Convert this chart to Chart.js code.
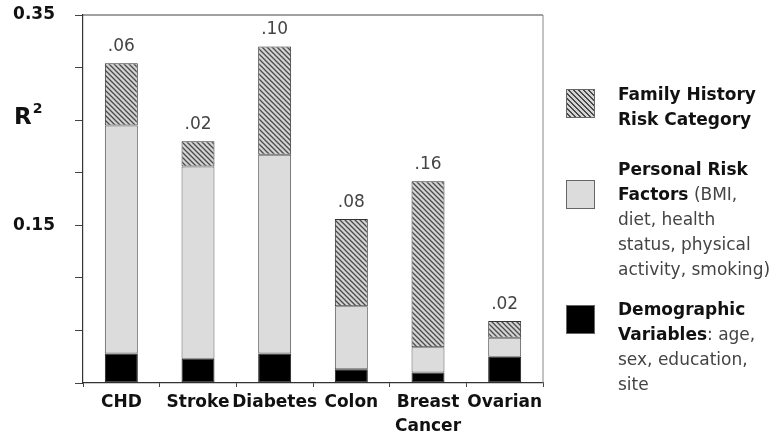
<!DOCTYPE html>
<html>
<head>
<meta charset="utf-8">
<script src="https://cdn.jsdelivr.net/npm/chart.js@4"></script>
<style>
    body { margin: 0; background: #fff; }
    #wrap { position: relative; width: 783px; height: 437px; }
    #chart { position: absolute; left: 0; top: 0; }
    .lg { position: absolute; left: 618px; font: 17px "DejaVu Sans", sans-serif; line-height: 25px; color: #444; white-space: nowrap; }
    .lg b { color: #111; }
    .sw { position: absolute; left: 566px; width: 27px; height: 27px; border: 1px solid #666; }
</style>
</head>
<body>
<div id="wrap">
    <canvas id="chart" width="783" height="437"></canvas>

    <div class="sw" style="top:89px;background:repeating-linear-gradient(45deg,#d4d4d4 0 2px,#4a4a4a 2px 3.5px);"></div>
    <div class="lg" style="top:82px;"><b>Family History<br>Risk Category</b></div>

    <div class="sw" style="top:180px;background:#dcdcdc;"></div>
    <div class="lg" style="top:157px;"><b>Personal Risk<br>Factors</b> (BMI,<br>diet, health<br>status, physical<br>activity, smoking)</div>

    <div class="sw" style="top:305px;background:#000;"></div>
    <div class="lg" style="top:297px;"><b>Demographic<br>Variables</b>: age,<br>sex, education,<br>site</div>
</div>

<script>
// datos (R² por bloque de variables)
const categories = ["CHD", "Stroke", "Diabetes", "Colon", ["Breast", "Cancer"], "Ovarian"];
const demographic = [0.028, 0.023, 0.028, 0.013, 0.010, 0.025];
const personal = [0.217, 0.183, 0.189, 0.060, 0.024, 0.018];
const familyHistory = [0.059, 0.024, 0.103, 0.083, 0.158, 0.016];
const familyLabels = [".06", ".02", ".10", ".08", ".16", ".02"];
const yTickLabels = ["0.35", "0.15"];

(() => {
    const canvas = document.getElementById("chart");
    const ctx = canvas.getContext("2d");

    // patrón rayado para "Family History"
    function hatchPattern() {
        const c = document.createElement("canvas");
        c.width = 5;
        c.height = 5;
        const g = c.getContext("2d");
        g.fillStyle = "#d4d4d4";
        g.fillRect(0, 0, 5, 5);
        g.strokeStyle = "#4a4a4a";
        g.lineWidth = 1.3;
        g.beginPath();
        g.moveTo(-1, -1); g.lineTo(6, 6);
        g.moveTo(-1, 4); g.lineTo(1, 6);
        g.moveTo(4, -1); g.lineTo(6, 1);
        g.stroke();
        return ctx.createPattern(c, "repeat");
    }

    const framePlugin = {
        id: "frame",
        afterDraw(chart) {
            const { ctx, chartArea: a } = chart;
            ctx.save();
            ctx.strokeStyle = "#444";
            ctx.lineWidth = 1.2;
            ctx.beginPath();
            ctx.moveTo(a.left, a.top);
            ctx.lineTo(a.right, a.top);
            ctx.stroke();
            ctx.strokeStyle = "#888";
            ctx.lineWidth = 1;
            ctx.beginPath();
            ctx.moveTo(a.right, a.top);
            ctx.lineTo(a.right, a.bottom);
            ctx.stroke();

            // etiqueta R²
            ctx.fillStyle = "#111";
            ctx.textBaseline = "alphabetic";
            ctx.textAlign = "left";
            ctx.font = "bold 23px 'DejaVu Sans'";
            ctx.fillText("R", 14, 124);
            const w = ctx.measureText("R").width;
            ctx.font = "bold 14px 'DejaVu Sans'";
            ctx.fillText("2", 14 + w + 1, 113);
            ctx.restore();
        }
    };

    const topLabelsPlugin = {
        id: "topLabels",
        afterDatasetsDraw(chart) {
            const { ctx } = chart;
            const meta = chart.getDatasetMeta(2);
            ctx.save();
            ctx.font = "17px 'DejaVu Sans'";
            ctx.fillStyle = "#444";
            ctx.textAlign = "center";
            ctx.textBaseline = "bottom";
            meta.data.forEach((el, i) => {
                ctx.fillText(familyLabels[i], el.x, el.y - 8);
            });
            ctx.restore();
        }
    };

    const barStyle = {
        borderWidth: 1,
        borderSkipped: false,
        categoryPercentage: 1,
        barPercentage: 0.43
    };

    new Chart(ctx, {
        type: "bar",
        data: {
            labels: categories,
            datasets: [
                { label: "Demographic Variables", data: demographic, backgroundColor: "#000", borderColor: "#222", ...barStyle },
                { label: "Personal Risk Factors", data: personal, backgroundColor: "#dcdcdc", borderColor: "#555", ...barStyle },
                { label: "Family History Risk Category", data: familyHistory, backgroundColor: hatchPattern(), borderColor: "#333", ...barStyle }
            ]
        },
        options: {
            responsive: false,
            animation: false,
            devicePixelRatio: 1,
            layout: { padding: { top: 15, right: 240, left: 0, bottom: 0 } },
            plugins: {
                legend: { display: false },
                tooltip: { enabled: false }
            },
            scales: {
                x: {
                    stacked: true,
                    afterFit: s => { s.height = 54; s.paddingLeft = 0; s.paddingRight = 0; },
                    grid: { offset: true, drawOnChartArea: false, tickLength: 4, color: "#444" },
                    border: { color: "#333", width: 1.2 },
                    ticks: {
                        autoSkip: false,
                        color: "#111",
                        padding: 3,
                        font: { family: "DejaVu Sans", size: 17, weight: "bold", lineHeight: 1.45 },
                        maxRotation: 0
                    }
                },
                y: {
                    stacked: true,
                    min: 0,
                    max: 0.35,
                    afterFit: s => { s.width = 83; s.paddingTop = 0; s.paddingBottom = 0; },
                    grid: { drawOnChartArea: false, tickLength: 8, color: "#444" },
                    border: { color: "#333", width: 1.2 },
                    ticks: {
                        stepSize: 0.05,
                        color: "#111",
                        padding: 20,
                        font: { family: "DejaVu Sans", size: 17, weight: "bold" },
                        callback: v => {
                            const k = Number(v).toFixed(2);
                            return yTickLabels.includes(k) ? k : "";
                        }
                    }
                }
            }
        },
        plugins: [framePlugin, topLabelsPlugin]
    });
})();
</script>
</body>
</html>
